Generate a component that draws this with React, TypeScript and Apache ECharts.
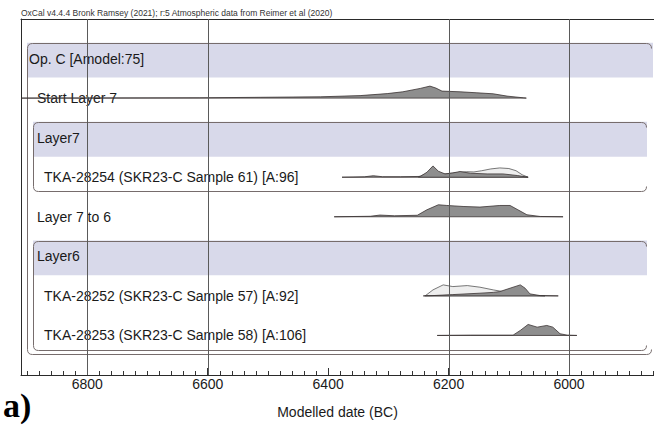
import React, { useEffect, useRef } from "react";
import * as echarts from "echarts";

// ---------- texts ----------
const HEADER_TEXT =
  "OxCal v4.4.4 Bronk Ramsey (2021); r:5 Atmospheric data from Reimer et al (2020)";
const AXIS_TITLE = "Modelled date (BC)";
const PANEL_TAG = "a)";

// ---------- axis ----------
const X_MIN = 5859;
const X_MAX = 6910;
const labelYears = [6800, 6600, 6400, 6200, 6000];
const gridYears = [6800, 6600, 6200, 6000];
const minorTickYears: number[] = [];
for (let y = 5860; y <= 6900; y += 20) minorTickYears.push(y);

// ---------- rows ----------
const rowLabels = [
  "Op. C [Amodel:75]",
  "Start Layer 7",
  "Layer7",
  "TKA-28254 (SKR23-C Sample 61) [A:96]",
  "Layer 7 to 6",
  "Layer6",
  "TKA-28252 (SKR23-C Sample 57) [A:92]",
  "TKA-28253 (SKR23-C Sample 58) [A:106]",
];
const rowIndent = [0, 1, 1, 2, 1, 1, 2, 2];
const shadedRows = [0, 2, 5];
// [first row, last row, nesting level]
const groupBoxes = [
  [0, 7, 0],
  [2, 3, 1],
  [5, 7, 1],
];

// ---------- distributions (years BC, relative probability) ----------
const startL7Years = [6910, 6613, 6513, 6413, 6347, 6302, 6276, 6247, 6231, 6221, 6211, 6181, 6153, 6126, 6103, 6076, 6071];
const startL7Prob = [0, 0.3, 0.8, 1.3, 2.5, 4.5, 6.3, 9.7, 12, 10, 7, 6.3, 5.3, 4.3, 2, 0.3, 0];

const tka28254Years = [6377, 6340, 6325, 6310, 6280, 6247, 6236, 6226, 6217, 6206, 6193, 6181, 6164, 6136, 6110, 6086, 6068];
const tka28254Prob = [0, 0.4, 1.5, 0.5, 0.5, 0.8, 5, 11.3, 6, 3.3, 4.3, 5.7, 4, 3.3, 3.3, 1.7, 0];
const tka28254LikYears = [6250, 6226, 6210, 6195, 6181, 6170, 6158, 6145, 6130, 6115, 6100, 6088, 6078, 6068];
const tka28254LikProb = [0.5, 6, 3, 4, 5, 5.5, 5.3, 6.5, 8.3, 9.3, 8.7, 6.5, 2.5, 0];

const l7to6Years = [6390, 6330, 6314, 6290, 6252, 6236, 6217, 6203, 6176, 6148, 6115, 6098, 6085, 6070, 6048, 6010];
const l7to6Prob = [0, 0.5, 1.7, 1, 1.5, 7, 12, 11.3, 10.3, 9.7, 11.3, 11.3, 7, 2, 0.3, 0];

const tka28252Years = [6242, 6226, 6193, 6148, 6126, 6115, 6098, 6081, 6073, 6065, 6048, 6018];
const tka28252Prob = [0, 0.3, 1.3, 2.7, 3.5, 4.3, 7.7, 11, 7.7, 2, 0.3, 0];
const tka28252LikYears = [6239, 6226, 6209, 6193, 6169, 6148, 6126, 6110, 6098, 6081, 6072, 6060, 6040];
const tka28252LikProb = [0, 6, 11, 9.3, 10.3, 8.7, 6, 4.3, 4, 5, 2, 0.5, 0];

const tka28253Years = [6219, 6164, 6093, 6081, 6068, 6053, 6037, 6027, 6015, 6003, 5987];
const tka28253Prob = [0, 0.3, 0.3, 5, 11, 8.3, 10, 8.3, 1.7, 0.3, 0];

const posteriors = [
  { row: 1, years: startL7Years, prob: startL7Prob },
  { row: 3, years: tka28254Years, prob: tka28254Prob },
  { row: 4, years: l7to6Years, prob: l7to6Prob },
  { row: 6, years: tka28252Years, prob: tka28252Prob },
  { row: 7, years: tka28253Years, prob: tka28253Prob },
];
const likelihoods = [
  { row: 3, years: tka28254LikYears, prob: tka28254LikProb },
  { row: 6, years: tka28252LikYears, prob: tka28252LikProb },
];

// ---------- styles ----------
const FONT = "'Liberation Sans', Arial, sans-serif";
const TEXT_COLOR = "#1a1a1a";
const BAND_COLOR = "#d8d9ea";
const BOX_COLOR = "#766c6c";
const PROB_SCALE = 1 / 39.56; // row units per probability unit
const INDENT_PX = [8, 16, 23];

function boxPath(L: number, T: number, R: number, B: number, r: number) {
  return (
    `M${R} ${T + r} Q${R} ${T} ${R - r} ${T} L${L + r} ${T} Q${L} ${T} ${L} ${T + r} ` +
    `L${L} ${B - r} Q${L} ${B} ${L + r} ${B} L${R - r} ${B} Q${R} ${B} ${R} ${B - r}`
  );
}

function distRenderer(list: any[], fill: string, stroke: string) {
  return (params: any, api: any) => {
    const d = list[params.dataIndex];
    const base = d.row + 1;
    const pts: number[][] = [api.coord([d.years[0], base])];
    d.years.forEach((yr: number, k: number) => {
      pts.push(api.coord([yr, base - d.prob[k] * PROB_SCALE]));
    });
    pts.push(api.coord([d.years[d.years.length - 1], base]));
    return {
      type: "polygon",
      shape: { points: pts },
      style: { fill, stroke, lineWidth: 0.8 },
    };
  };
}

export default function App() {
  const ref = useRef<HTMLDivElement>(null);

  useEffect(() => {
    if (!ref.current) return;
    const chart = echarts.init(ref.current, null, { renderer: "svg" });

    const baseX = {
      type: "value",
      min: X_MIN,
      max: X_MAX,
      inverse: true,
      splitLine: { show: false },
    };

    chart.setOption({
      animation: false,
      backgroundColor: "#ffffff",
      grid: { left: 21, right: 0, top: 19, bottom: 50, containLabel: false },
      xAxis: [
        {
          ...baseX,
          position: "bottom",
          axisLine: { show: true, onZero: false, lineStyle: { color: "#2a2a2a", width: 1 } },
          axisTick: {
            show: true,
            inside: true,
            length: 4,
            customValues: minorTickYears,
            lineStyle: { color: "#333", width: 1 },
          },
          axisLabel: {
            show: true,
            customValues: labelYears,
            formatter: (v: number) => String(v),
            color: TEXT_COLOR,
            fontSize: 14,
            fontFamily: FONT,
            margin: 2,
          },
          name: AXIS_TITLE,
          nameLocation: "middle",
          nameGap: 30,
          nameTextStyle: { color: TEXT_COLOR, fontSize: 14, fontFamily: FONT },
        },
        {
          ...baseX,
          position: "top",
          axisLine: { show: true, onZero: false, lineStyle: { color: "#2a2a2a", width: 1 } },
          axisTick: { show: false },
          axisLabel: { show: false },
        },
        {
          ...baseX,
          position: "bottom",
          axisLine: { show: false, onZero: false },
          axisTick: {
            show: true,
            inside: true,
            length: 7,
            customValues: labelYears,
            lineStyle: { color: "#333", width: 1 },
          },
          axisLabel: { show: false },
        },
      ],
      yAxis: {
        type: "value",
        min: 0,
        max: 9,
        inverse: true,
        position: "left",
        axisLine: { show: true, onZero: false, lineStyle: { color: "#2a2a2a", width: 1 } },
        axisTick: { show: false },
        axisLabel: { show: false },
        splitLine: { show: false },
      },
      graphic: [
        {
          type: "text",
          left: 21,
          top: 8,
          style: { text: HEADER_TEXT, fontSize: 8.5, fontFamily: FONT, fill: "#333" },
        },
        {
          type: "text",
          left: 3,
          top: 388,
          style: {
            text: PANEL_TAG,
            fontSize: 34,
            fontWeight: "bold",
            fontFamily: "'Liberation Serif', 'Times New Roman', serif",
            fill: "#000",
          },
        },
      ],
      series: [
        // shaded group bands
        {
          type: "custom",
          z: 1,
          clip: false,
          data: shadedRows.map((r) => [r]),
          renderItem: (params: any, api: any) => {
            const r = shadedRows[params.dataIndex];
            const cs = params.coordSys;
            const top = api.coord([X_MAX, r + 1 - 0.4])[1];
            const bot = api.coord([X_MAX, r + 1 + 0.48])[1];
            const outer = r === 0;
            const x0 = cs.x + (outer ? 6 : 12);
            const x1 = cs.x + cs.width - (outer ? 1 : 7);
            return {
              type: "rect",
              shape: { x: x0, y: top, width: x1 - x0, height: bot - top },
              style: { fill: BAND_COLOR },
            };
          },
        },
        // group boxes
        {
          type: "custom",
          z: 2,
          clip: false,
          data: groupBoxes.map((_, i) => [i]),
          renderItem: (params: any, api: any) => {
            const [r0, r1, lvl] = groupBoxes[params.dataIndex];
            const cs = params.coordSys;
            const T = api.coord([X_MAX, r0 + 1 - 0.4])[1];
            const B = api.coord([X_MAX, r1 + 1 + (lvl === 0 ? 0.47 : 0.36)])[1];
            const L = cs.x + (lvl === 0 ? 6 : 12) + 0.5;
            const R = cs.x + cs.width - (lvl === 0 ? 3 : 8) + 0.5;
            return {
              type: "path",
              shape: { pathData: boxPath(L, Math.round(T) + 0.5, R, Math.round(B) + 0.5, 5) },
              style: { fill: "none", stroke: BOX_COLOR, lineWidth: 1 },
            };
          },
        },
        // row labels
        {
          type: "custom",
          z: 3,
          clip: false,
          data: rowLabels.map((_, i) => [i]),
          renderItem: (params: any, api: any) => {
            const i = params.dataIndex;
            const cs = params.coordSys;
            const y = api.coord([X_MAX, i + 1])[1];
            return {
              type: "text",
              x: cs.x + INDENT_PX[rowIndent[i]],
              y,
              style: {
                text: rowLabels[i],
                fontSize: 14,
                fontFamily: FONT,
                fill: TEXT_COLOR,
                align: "left",
                verticalAlign: "middle",
                textAlign: "left",
                textVerticalAlign: "middle",
              },
            };
          },
        },
        // likelihoods (unmodelled)
        {
          type: "custom",
          z: 4,
          clip: false,
          data: likelihoods.map((_, i) => [i]),
          renderItem: distRenderer(likelihoods, "#eeeeee", "#555555"),
        },
        // posteriors (modelled)
        {
          type: "custom",
          z: 5,
          clip: false,
          data: posteriors.map((_, i) => [i]),
          renderItem: distRenderer(posteriors, "#8e8e8e", "#3a3232"),
        },
        // vertical reference lines
        {
          type: "custom",
          z: 6,
          clip: false,
          data: gridYears.map((y) => [y]),
          renderItem: (params: any, api: any) => {
            const yr = gridYears[params.dataIndex];
            const p0 = api.coord([yr, 0]);
            const p1 = api.coord([yr, 9]);
            const x = Math.round(p0[0]) + 0.5;
            return {
              type: "line",
              shape: { x1: x, y1: p0[1], x2: x, y2: p1[1] },
              style: { stroke: "#5a5a5a", lineWidth: 1 },
            };
          },
        },
      ],
    });

    return () => chart.dispose();
  }, []);

  return (
    <div
      ref={ref}
      style={{ position: "absolute", left: 0, top: 0, width: 654, height: 425, background: "#fff" }}
    />
  );
}
